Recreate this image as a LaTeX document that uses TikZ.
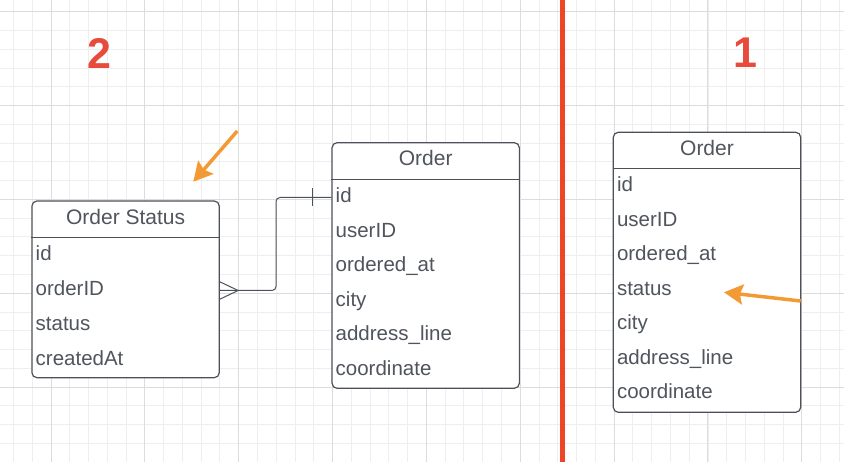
\documentclass[tikz,border=0pt]{standalone}
\usepackage{fontspec}
\setmainfont{Liberation Sans}
\usetikzlibrary{positioning,arrows.meta}

\definecolor{gridminor}{HTML}{EEEEEE}
\definecolor{gridmajor}{HTML}{DCDCDC}
\definecolor{boxline}{HTML}{4C5058}
\definecolor{textgray}{HTML}{50545C}
\definecolor{divred}{HTML}{EE4527}
\definecolor{numred}{HTML}{E84A3B}
\definecolor{markorange}{HTML}{F39A35}

\tikzset{
  entity/.style={draw=boxline,line width=1.2pt,rounded corners=5pt,fill=white,inner sep=0pt},
  boxrule/.style={draw=boxline,line width=1.2pt},
  title/.style={anchor=base,inner sep=0pt,text=textgray,font=\fontsize{21}{24}\selectfont},
  field/.style={anchor=base west,inner sep=0pt,text height=14.7pt,text depth=4.3pt,
    text=textgray,font=\fontsize{20.5}{24}\selectfont},
  rel/.style={draw=boxline,line width=1pt},
  pointer/.style={draw=markorange,line width=3.5pt,-{Stealth[length=19pt,width=20pt,inset=3pt]}},
  stepnum/.style={anchor=base,inner sep=0pt,text=numred,font=\fontsize{43}{48}\selectfont\bfseries}
}

\begin{document}
\begin{tikzpicture}[x=1pt,y=-1pt]

\useasboundingbox[fill=white] (0,0) rectangle (844,462);

% grid
\foreach \i in {0,...,44}
  \draw[gridminor,line width=0.9pt] ({13.46+18.77*\i},0) -- ++(0,462);
\foreach \j in {0,...,23}
  \draw[gridminor,line width=0.9pt] (0,{11.7+18.77*\j}) -- ++(844,0);
\foreach \i in {0,...,8}
  \draw[gridmajor,line width=1pt] ({51+93.85*\i},0) -- ++(0,462);
\foreach \j in {0,...,4}
  \draw[gridmajor,line width=1pt] (0,{11.7+93.85*\j}) -- ++(844,0);

% divider and numbers
\draw[divred,line width=5pt] (562.5,0) -- (562.5,462);
\node[stepnum] (num2) at (99.7,68.3) {2};
\node[stepnum] (num1) at (745,67.7) {1};

% Order Status
\node[entity,minimum width=187.3,minimum height=176.7] (status) at (125.6,289.35) {};
\draw[boxrule] ([yshift=-37.3pt]status.north west) -- ([yshift=-37.3pt]status.north east);
\node[title] (statustitle) at (125.6,225) {Order Status};
\foreach[count=\c] \f in {id,orderID,status,createdAt}
  \node[field] (s\c) at (35.5,{261+34.7*(\c-1)}) {\f};

% Order (2)
\node[entity,minimum width=187.3,minimum height=245.6] (order) at (425.7,265.5) {};
\draw[boxrule] ([yshift=-37.3pt]order.north west) -- ([yshift=-37.3pt]order.north east);
\node[title] (ordertitle) at (425.7,166) {Order};
\foreach[count=\c] \f in {id,userID,ordered\_at,city,address\_line,coordinate}
  \node[field] (m\c) at (335.5,{202.7+34.5*(\c-1)}) {\f};

% Order (1)
\node[entity,minimum width=187.4,minimum height=280] (orderold) at (707,272.3) {};
\draw[boxrule] ([yshift=-37pt]orderold.north west) -- ([yshift=-37pt]orderold.north east);
\node[title] (orderoldtitle) at (707,155.7) {Order};
\foreach[count=\c] \f in {id,userID,ordered\_at,status,city,address\_line,coordinate}
  \node[field] (r\c) at (616.8,{191.7+34.55*(\c-1)}) {\f};

% relation
\coordinate (bend) at (276,0);
\draw[rel,rounded corners=4pt] (order.west |- m1) -| (bend |- s2) -- (status.east |- s2);
\draw[rel] (status.east |- s2) ++(0,-8.7) -- ++(18.3,8.7) -- ++(-18.3,8.7);
\draw[rel] (order.west |- m1) ++(-19.3,-9) -- ++(0,18);

% markers
\coordinate (p1s) at (237.3,131);
\coordinate (p1e) at (193.3,181.7);
\coordinate (p2s) at (800.7,301);
\coordinate (p2e) at (724,292.3);
\draw[pointer] (p1s) -- (p1e);
\draw[pointer] (p2s) -- (p2e);

\end{tikzpicture}
\end{document}
